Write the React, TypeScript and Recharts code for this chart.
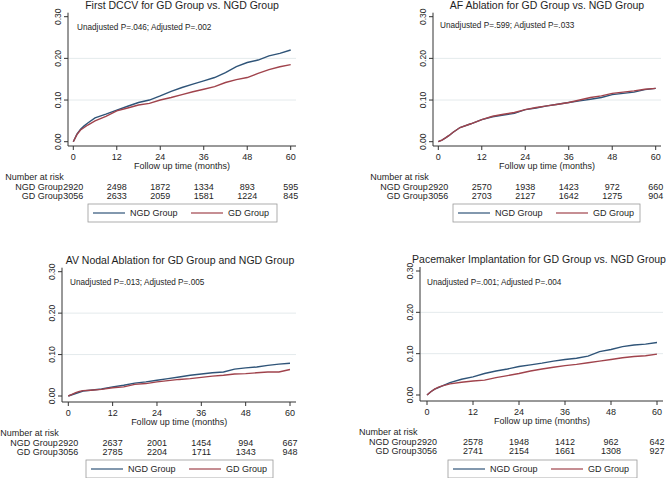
import { LineChart, Line, XAxis, YAxis, ReferenceLine, Label } from 'recharts';

const FONT = '"Liberation Sans", Arial, Helvetica, sans-serif';
const TEXT = '#1e1e1e';

// follow-up months at which the curves were read
const months = [0, 1, 2, 3, 4, 6, 9, 12, 15, 18, 21, 24, 27, 30, 33, 36, 39, 42, 45, 48, 51, 54, 57, 60];
const riskMonths = [0, 12, 24, 36, 48, 60];
const yTicks = [0, 0.1, 0.2, 0.3];
const gridValues = [0.1, 0.2];
const seriesNames = ['NGD Group', 'GD Group'];
const seriesColors = ['#2f5478', '#a0434c'];

const titles = [
  'First DCCV for GD Group vs. NGD Group',
  'AF Ablation for GD Group vs. NGD Group',
  'AV Nodal Ablation for GD Group and NGD Group',
  'Pacemaker Implantation for GD Group vs. NGD Group',
];
const pTexts = [
  'Unadjusted P=.046; Adjusted P=.002',
  'Unadjusted P=.599; Adjusted P=.033',
  'Unadjusted P=.013; Adjusted P=.005',
  'Unadjusted P=.001; Adjusted P=.004',
];

// cumulative incidence
const dccvNgd = [0, .018, .030, .038, .045, .057, .066, .076, .085, .094, .100, .110, .121, .130, .138, .146, .154, .166, .180, .190, .196, .206, .212, .220];
const dccvGd = [0, .017, .028, .034, .040, .050, .061, .074, .081, .088, .092, .100, .106, .113, .120, .126, .132, .142, .149, .154, .164, .173, .180, .185];
const afNgd = [0, .004, .009, .015, .022, .034, .043, .053, .060, .064, .068, .077, .081, .086, .090, .094, .098, .102, .106, .113, .116, .119, .125, .128];
const afGd = [0, .004, .009, .015, .022, .034, .043, .053, .061, .066, .070, .077, .082, .086, .090, .094, .100, .106, .110, .116, .119, .122, .126, .128];
const avnNgd = [0, .003, .006, .009, .012, .014, .017, .022, .026, .031, .034, .038, .042, .046, .050, .053, .056, .058, .065, .068, .070, .074, .077, .079];
const avnGd = [0, .004, .008, .011, .013, .014, .016, .020, .022, .028, .030, .034, .037, .040, .042, .045, .048, .050, .053, .054, .056, .058, .058, .064];
const pmNgd = [0, .008, .014, .018, .022, .030, .038, .044, .052, .058, .063, .069, .073, .077, .082, .086, .089, .094, .105, .110, .117, .121, .123, .127];
const pmGd = [0, .008, .014, .019, .022, .027, .031, .034, .036, .042, .047, .052, .058, .063, .067, .071, .074, .078, .082, .086, .090, .093, .095, .099];

// number at risk
const dccvRiskNgd = [2920, 2498, 1872, 1334, 893, 595];
const dccvRiskGd = [3056, 2633, 2059, 1581, 1224, 845];
const afRiskNgd = [2920, 2570, 1938, 1423, 972, 660];
const afRiskGd = [3056, 2703, 2127, 1642, 1275, 904];
const avnRiskNgd = [2920, 2637, 2001, 1454, 994, 667];
const avnRiskGd = [3056, 2785, 2204, 1711, 1343, 948];
const pmRiskNgd = [2920, 2578, 1948, 1412, 962, 642];
const pmRiskGd = [3056, 2741, 2154, 1661, 1308, 927];

const W = 335;
const H = 240;
const YW = 20;
const XH = 60;
const TICK = 4;

interface Geo {
  ox: number; oy: number; left: number; right: number; top: number; axisY: number;
  padL: number; padR: number; padT: number; padB: number;
  titleX: number; titleY: number; pX: number; pY: number; legX: number; legW: number; legY: number;
}

const geos: Geo[] = [
  { ox: 0, oy: 0, left: 68, right: 296, top: 12.7, axisY: 146, padL: 5.3, padR: 5.3, padT: 4, padB: 4.3, titleX: 182, titleY: 5, pX: 77, pY: 27, legX: 88, legW: 189, legY: 204 },
  { ox: 335, oy: 0, left: 98, right: 326, top: 12.7, axisY: 146, padL: 5.3, padR: 5.3, padT: 4, padB: 4.3, titleX: 212, titleY: 5, pX: 105, pY: 25, legX: 118, legW: 187, legY: 204 },
  { ox: 0, oy: 240, left: 62, right: 296, top: 27.7, axisY: 162, padL: 6.3, padR: 6, padT: 4, padB: 6, titleX: 180, titleY: 20, pX: 70, pY: 42, legX: 86, legW: 187, legY: 220 },
  { ox: 335, oy: 240, left: 85, right: 328, top: 27, axisY: 161, padL: 7, padR: 6, padT: 4, padB: 6, titleX: 204, titleY: 19, pX: 92, pY: 42, legX: 113, legW: 189, legY: 220 },
];

function YTick(props: any) {
  const { x, y, payload } = props;
  return (
    <text x={x} y={y} transform={`rotate(-90, ${x}, ${y})`} textAnchor="middle" fontSize={8.5} fontFamily={FONT} fill={TEXT}>
      {Number(payload.value).toFixed(2)}
    </text>
  );
}

function RiskTick(props: any) {
  const { x, y, payload, index, ngd, gd } = props;
  const base = y - TICK;
  const idx = riskMonths.indexOf(payload.value);
  const common = { fontFamily: FONT, fill: TEXT, dominantBaseline: 'central' as const };
  return (
    <g>
      <text x={x} y={base + 10.5} textAnchor="middle" fontSize={9} {...common}>{payload.value}</text>
      <text x={x} y={base + 40.5} textAnchor="middle" fontSize={9} {...common}>{ngd[idx]}</text>
      <text x={x} y={base + 50} textAnchor="middle" fontSize={9} {...common}>{gd[idx]}</text>
      {index === 0 && (
        <>
          <text x={x - 68} y={base + 30.5} textAnchor="start" fontSize={9} {...common}>Number at risk</text>
          <text x={x - 10.5} y={base + 40.5} textAnchor="end" fontSize={9} {...common}>{seriesNames[0]}</text>
          <text x={x - 10.5} y={base + 50} textAnchor="end" fontSize={9} {...common}>{seriesNames[1]}</text>
        </>
      )}
    </g>
  );
}

interface PanelProps {
  geo: Geo; title: string; pText: string;
  ngd: number[]; gd: number[]; riskNgd: number[]; riskGd: number[];
}

function Panel({ geo, title, pText, ngd, gd, riskNgd, riskGd }: PanelProps) {
  const data = months.map((m, i) => ({ month: m, ngd: ngd[i], gd: gd[i] }));
  const margin = { top: geo.top, left: geo.left - YW, right: W - geo.right, bottom: H - geo.axisY - XH };
  const mid = (geo.left + geo.padL + geo.right - geo.padR) / 2;

  return (
    <div style={{ position: 'absolute', left: geo.ox, top: geo.oy, width: W, height: H }}>
      <LineChart width={W} height={H} data={data} margin={margin}>
        {gridValues.map((v) => (
          <ReferenceLine key={v} y={v} stroke="#e4eaec" strokeWidth={1} />
        ))}
        <XAxis
          dataKey="month"
          type="number"
          domain={[0, 60]}
          ticks={riskMonths}
          interval={0}
          padding={{ left: geo.padL, right: geo.padR }}
          height={XH}
          tickSize={TICK}
          tickMargin={0}
          stroke="#333"
          tick={(p: any) => <RiskTick {...p} ngd={riskNgd} gd={riskGd} />}
        >
          <Label
            content={(lp: any) => {
              const vb = lp.viewBox || {};
              return (
                <text x={mid} y={(vb.y ?? geo.axisY) + 20} textAnchor="middle" dominantBaseline="central" fontSize={9} fontFamily={FONT} fill={TEXT}>
                  Follow up time (months)
                </text>
              );
            }}
          />
        </XAxis>
        <YAxis
          type="number"
          domain={[0, 0.3]}
          ticks={yTicks}
          interval={0}
          width={YW}
          padding={{ top: geo.padT, bottom: geo.padB }}
          tickSize={TICK}
          tickMargin={3}
          stroke="#333"
          tick={<YTick />}
        />
        <Line dataKey="ngd" name={seriesNames[0]} stroke={seriesColors[0]} strokeWidth={1.4} dot={false} type="linear" isAnimationActive={false} />
        <Line dataKey="gd" name={seriesNames[1]} stroke={seriesColors[1]} strokeWidth={1.4} dot={false} type="linear" isAnimationActive={false} />
      </LineChart>
      <svg width={W} height={H} style={{ position: 'absolute', left: 0, top: 0, pointerEvents: 'none' }}>
        <text x={geo.titleX} y={geo.titleY} textAnchor="middle" dominantBaseline="central" fontSize={10.5} fontFamily={FONT} fill={TEXT}>{title}</text>
        <text x={geo.pX} y={geo.pY} textAnchor="start" dominantBaseline="central" fontSize={8.2} fontFamily={FONT} fill={TEXT}>{pText}</text>
        <rect x={geo.legX} y={geo.legY} width={geo.legW} height={18} fill="#fff" stroke="#9a9a9a" strokeWidth={0.8} />
        {seriesNames.map((name, i) => {
          const sx = geo.legX + 5 + i * 98;
          const cy = geo.legY + 9;
          return (
            <g key={name}>
              <line x1={sx} x2={sx + 32} y1={cy} y2={cy} stroke={seriesColors[i]} strokeWidth={1.2} />
              <text x={sx + 37} y={cy} dominantBaseline="central" fontSize={9} fontFamily={FONT} fill={TEXT}>{name}</text>
            </g>
          );
        })}
      </svg>
    </div>
  );
}

export default function App() {
  const panels = [
    { ngd: dccvNgd, gd: dccvGd, riskNgd: dccvRiskNgd, riskGd: dccvRiskGd },
    { ngd: afNgd, gd: afGd, riskNgd: afRiskNgd, riskGd: afRiskGd },
    { ngd: avnNgd, gd: avnGd, riskNgd: avnRiskNgd, riskGd: avnRiskGd },
    { ngd: pmNgd, gd: pmGd, riskNgd: pmRiskNgd, riskGd: pmRiskGd },
  ];
  return (
    <div style={{ position: 'absolute', left: 0, top: 0, width: 670, height: 478, background: '#fff', overflow: 'hidden', fontFamily: FONT }}>
      {panels.map((p, i) => (
        <Panel key={i} geo={geos[i]} title={titles[i]} pText={pTexts[i]} {...p} />
      ))}
    </div>
  );
}
